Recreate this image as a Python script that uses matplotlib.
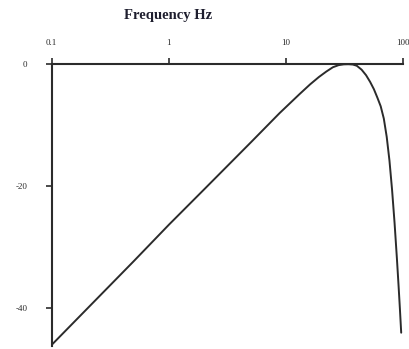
import matplotlib
matplotlib.use("Agg")
import matplotlib.pyplot as plt

# Magnitude response of the filter (frequency in Hz, gain in dB)
freq_hz = [0.1, 0.2, 0.5, 1.0, 2.0, 5.0, 8.8, 13.0, 16.0, 19.0, 22.0, 25.0,
           28.0, 31.0, 34.0, 37.0, 40.0, 44.0, 48.0, 52.0, 56.0, 60.0, 64.0,
           68.0, 72.0, 76.0, 80.0, 84.0, 88.0, 91.0, 93.3, 95.7]
gain_db = [-46.0, -40.1, -32.3, -26.3, -20.5, -12.8, -8.0, -4.9, -3.3, -2.1,
           -1.2, -0.5, -0.15, -0.02, 0.0, -0.05, -0.25, -0.9, -1.8, -2.9,
           -4.1, -5.5, -6.9, -8.9, -11.9, -15.8, -20.6, -26.0, -31.9, -36.5,
           -40.1, -44.0]

x_ticks = [0.1, 1, 10, 100]
x_tick_labels = ["0.1", "1", "10", "100"]
y_ticks = [0, -20, -40]
y_tick_labels = ["0", "-20", "-40"]

ink = "#2b2b2b"
serif = ["Liberation Serif", "DejaVu Serif"]

fig = plt.figure(figsize=(4.10, 3.49), dpi=100)
ax = fig.add_axes([0.126, 0.010, 0.858, 0.806])

ax.plot(freq_hz, gain_db, color=ink, linewidth=1.4, solid_capstyle="round",
        solid_joinstyle="round")

ax.set_xscale("log")
ax.set_xlim(0.1, 100)
ax.set_ylim(-46.1, 0)

for side in ("right", "bottom"):
    ax.spines[side].set_visible(False)
for side in ("top", "left"):
    ax.spines[side].set_color(ink)
    ax.spines[side].set_linewidth(1.5)

ax.xaxis.set_ticks_position("top")
ax.set_xticks(x_ticks)
ax.set_xticklabels(x_tick_labels, fontsize=6.5, family=serif, color=ink)
ax.xaxis.set_minor_locator(matplotlib.ticker.NullLocator())
ax.tick_params(axis="x", which="major", direction="out", length=4, width=1.2,
               color=ink, pad=8.5)

ax.set_yticks(y_ticks)
ax.set_yticklabels(y_tick_labels, fontsize=6.5, family=serif, color=ink)
ax.tick_params(axis="y", direction="out", length=4, width=1.2, color=ink,
               pad=13.5)

fig.text(0.411, 0.957, "Frequency Hz", ha="center", va="center",
         fontsize=10.5, fontweight="bold", family=serif, color="#1e1e2e")

fig.savefig("out.png", dpi=100)
